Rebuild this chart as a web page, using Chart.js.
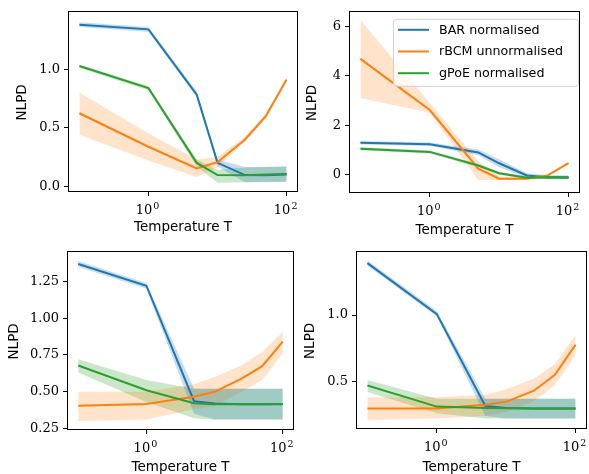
<!DOCTYPE html>
<html>
<head>
<meta charset="utf-8">
<script src="https://cdn.jsdelivr.net/npm/chart.js@4.4.1/dist/chart.umd.min.js"></script>
<style>
  html, body { margin: 0; padding: 0; background: #fff; }
  #figure { position: relative; width: 589px; height: 474px; overflow: hidden; }
  #figure canvas { position: absolute; }
</style>
</head>
<body>
<div id="figure">
  <canvas id="panelA" width="300" height="240" style="left:0;top:0"></canvas>
  <canvas id="panelB" width="289" height="240" style="left:300px;top:0"></canvas>
  <canvas id="panelC" width="300" height="234" style="left:0;top:240px"></canvas>
  <canvas id="panelD" width="289" height="234" style="left:300px;top:240px"></canvas>
</div>
<script>
// Shared x values and series names
const temperatures = [0.1, 1, 5, 10, 25, 50, 100];
const seriesNames = ['BAR normalised', 'rBCM unnormalised', 'gPoE normalised'];
const xTickValues = [1, 100];
const xTickExponents = ['0', '2'];
const xTitle = 'Temperature T';
const yTitle = 'NLPD';

// Panel A (top left)
const barA = [1.379, 1.340, 0.783, 0.200, 0.096, 0.095, 0.100];
const barALow = [1.36, 1.32, 0.76, 0.17, 0.035, 0.035, 0.04];
const barAHigh = [1.40, 1.36, 0.81, 0.23, 0.165, 0.165, 0.17];
const rbcmA = [0.624, 0.338, 0.152, 0.206, 0.40, 0.60, 0.912];
const rbcmALow = [0.44, 0.22, 0.08, 0.165, 0.38, 0.58, 0.90];
const rbcmAHigh = [0.80, 0.45, 0.23, 0.25, 0.42, 0.62, 0.93];
const gpoeA = [1.027, 0.838, 0.200, 0.096, 0.095, 0.100, 0.105];
const gpoeALow = [1.01, 0.82, 0.17, 0.03, 0.035, 0.04, 0.04];
const gpoeAHigh = [1.04, 0.855, 0.23, 0.14, 0.16, 0.165, 0.17];
const yTicksA = [0, 0.5, 1.0];

// Panel B (top right)
const barB = [1.29, 1.23, 0.90, 0.46, -0.03, -0.10, -0.10];
const barBLow = [1.22, 1.16, 0.78, 0.30, -0.12, -0.18, -0.18];
const barBHigh = [1.36, 1.30, 1.02, 0.62, 0.06, -0.02, -0.02];
const rbcmB = [4.68, 2.61, 0.24, -0.16, -0.16, -0.03, 0.47];
const rbcmBLow = [3.10, 2.50, -0.22, -0.22, -0.20, -0.08, 0.45];
const rbcmBHigh = [6.25, 2.90, 0.55, -0.08, -0.12, 0.02, 0.50];
const gpoeB = [1.05, 0.92, 0.37, 0.06, -0.12, -0.10, -0.12];
const gpoeBLow = [0.98, 0.86, 0.30, 0.0, -0.18, -0.17, -0.18];
const gpoeBHigh = [1.12, 0.98, 0.44, 0.12, -0.06, -0.04, -0.06];
const yTicksB = [0, 2, 4, 6];

// Panel C (bottom left)
const barC = [1.369, 1.221, 0.435, 0.420, 0.415, 0.415, 0.415];
const barCLow = [1.35, 1.20, 0.35, 0.31, 0.31, 0.31, 0.31];
const barCHigh = [1.39, 1.24, 0.52, 0.52, 0.52, 0.52, 0.52];
const rbcmC = [0.405, 0.416, 0.465, 0.499, 0.589, 0.674, 0.840];
const rbcmCLow = [0.30, 0.31, 0.38, 0.40, 0.50, 0.58, 0.76];
const rbcmCHigh = [0.50, 0.50, 0.55, 0.60, 0.68, 0.77, 0.91];
const gpoeC = [0.678, 0.510, 0.421, 0.415, 0.415, 0.415, 0.416];
const gpoeCLow = [0.63, 0.43, 0.32, 0.31, 0.31, 0.31, 0.31];
const gpoeCHigh = [0.72, 0.58, 0.52, 0.52, 0.52, 0.52, 0.52];
const yTicksC = [0.25, 0.5, 0.75, 1.0, 1.25];

// Panel D (bottom right)
const barD = [1.391, 1.007, 0.315, 0.300, 0.295, 0.295, 0.295];
const barDLow = [1.37, 0.99, 0.24, 0.22, 0.22, 0.22, 0.22];
const barDHigh = [1.41, 1.03, 0.37, 0.37, 0.37, 0.37, 0.37];
const rbcmD = [0.296, 0.295, 0.325, 0.346, 0.430, 0.548, 0.777];
const rbcmDLow = [0.21, 0.22, 0.24, 0.27, 0.35, 0.47, 0.70];
const rbcmDHigh = [0.38, 0.38, 0.40, 0.44, 0.52, 0.63, 0.85];
const gpoeD = [0.469, 0.310, 0.300, 0.298, 0.296, 0.296, 0.296];
const gpoeDLow = [0.42, 0.26, 0.22, 0.22, 0.22, 0.22, 0.22];
const gpoeDHigh = [0.51, 0.37, 0.37, 0.37, 0.37, 0.37, 0.37];
const yTicksD = [0.5, 1.0];

// Matplotlib default colours
const lineColors = ['#1f77b4', '#ff7f0e', '#2ca02c'];
const bandColors = ['rgba(31,119,180,0.25)', 'rgba(255,127,14,0.22)', 'rgba(44,160,44,0.25)'];

const serifFont = 'DejaVu Serif';
const sansFont = 'DejaVu Sans';

function points(values) {
    return temperatures.map((t, i) => ({ x: t, y: values[i] }));
}

// Bands first (upper fills to lower), then the mean lines on top
function buildDatasets(series) {
    const datasets = [];
    series.forEach((s, i) => {
        datasets.push({ data: points(s.high), fill: '+1', backgroundColor: bandColors[i],
            borderColor: 'transparent', borderWidth: 0, pointRadius: 0, order: 10 });
        datasets.push({ data: points(s.low), fill: false,
            borderColor: 'transparent', borderWidth: 0, pointRadius: 0, order: 10 });
    });
    series.forEach((s, i) => {
        datasets.push({ label: seriesNames[i], data: points(s.mean), fill: false,
            borderColor: lineColors[i], borderWidth: 2, pointRadius: 0, tension: 0, order: 3 - i });
    });
    return datasets;
}

// Full box around the plotting area (matplotlib spines)
const frameBox = {
    id: 'frameBox',
    afterDraw(chart) {
        const { ctx, chartArea: a } = chart;
        ctx.save();
        ctx.strokeStyle = '#000';
        ctx.lineWidth = 1;
        ctx.strokeRect(Math.round(a.left) - 0.5, Math.round(a.top) - 0.5,
            Math.round(a.right - a.left) + 1, Math.round(a.bottom - a.top) + 1);
        ctx.restore();
    }
};

// Log tick labels as 10 with a raised exponent, plus both axis titles
const axisText = {
    id: 'axisText',
    afterDraw(chart, args, opts) {
        const ctx = chart.ctx;
        const a = chart.chartArea;
        const xs = chart.scales.x;
        const baseY = a.bottom + 23;
        ctx.save();
        ctx.fillStyle = '#000';
        ctx.textBaseline = 'alphabetic';
        ctx.textAlign = 'left';
        xTickValues.forEach((v, i) => {
            const px = xs.getPixelForValue(v);
            ctx.font = '13px "' + serifFont + '"';
            const baseW = ctx.measureText('10').width;
            ctx.font = '9.5px "' + serifFont + '"';
            const expW = ctx.measureText(xTickExponents[i]).width;
            const left = px - (baseW + expW + 1) / 2 - 1;
            ctx.font = '13px "' + serifFont + '"';
            ctx.fillText('10', left, baseY);
            ctx.font = '9.5px "' + serifFont + '"';
            ctx.fillText(xTickExponents[i], left + baseW + 1, baseY - 5.5);
        });
        ctx.font = '13.5px "' + sansFont + '"';
        ctx.textAlign = 'center';
        ctx.textBaseline = 'middle';
        ctx.fillText(xTitle, (a.left + a.right) / 2, opts.xTitleY);
        ctx.translate(opts.yTitleX, (a.top + a.bottom) / 2 + 1);
        ctx.rotate(-Math.PI / 2);
        ctx.fillText(yTitle, 0, 0);
        ctx.restore();
    }
};

// Legend drawn inside the axes, upper right
const insideLegend = {
    id: 'insideLegend',
    afterDraw(chart, args, opts) {
        if (!opts.show) return;
        const ctx = chart.ctx;
        const a = chart.chartArea;
        const items = chart.data.datasets.filter(d => d.label);
        ctx.save();
        ctx.font = '12.7px "' + sansFont + '"';
        const textW = Math.max(...items.map(d => ctx.measureText(d.label).width));
        const w = 5 + 31 + 10 + textW + 15;
        const h = 67;
        const x = a.right - 1 - w;
        const y = a.top + 7;
        ctx.beginPath();
        ctx.roundRect(x + 0.5, y + 0.5, w, h, 3);
        ctx.fillStyle = 'rgba(255,255,255,0.8)';
        ctx.fill();
        ctx.strokeStyle = '#d0d0d0';
        ctx.lineWidth = 1;
        ctx.stroke();
        items.forEach((d, i) => {
            const cy = y + 11 + i * 21.7;
            ctx.strokeStyle = d.borderColor;
            ctx.lineWidth = 2;
            ctx.beginPath();
            ctx.moveTo(x + 5, cy);
            ctx.lineTo(x + 36, cy);
            ctx.stroke();
            ctx.fillStyle = '#000';
            ctx.textBaseline = 'middle';
            ctx.fillText(d.label, x + 46, cy + 0.5);
        });
        ctx.restore();
    }
};

function makePanel(id, series, cfg) {
    const ctx = document.getElementById(id).getContext('2d');
    return new Chart(ctx, {
        type: 'line',
        data: { datasets: buildDatasets(series) },
        options: {
            responsive: false,
            animation: false,
            devicePixelRatio: 1,
            layout: { padding: { top: cfg.padTop, right: cfg.padRight, left: 0, bottom: 0 } },
            plugins: {
                legend: { display: false },
                tooltip: { enabled: false },
                insideLegend: { show: !!cfg.legend },
                axisText: { xTitleY: cfg.xTitleY, yTitleX: cfg.yTitleX }
            },
            scales: {
                x: {
                    type: 'logarithmic',
                    min: Math.pow(10, -1.15),
                    max: Math.pow(10, 2.15),
                    afterBuildTicks: s => { s.ticks = xTickValues.map(v => ({ value: v })); },
                    afterFit: s => { s.height = cfg.xHeight; },
                    ticks: { autoSkip: false, maxRotation: 0, callback: () => '' },
                    grid: { drawOnChartArea: false, drawTicks: true, tickLength: 5, tickColor: '#000' },
                    border: { display: false }
                },
                y: {
                    type: 'linear',
                    min: cfg.yMin,
                    max: cfg.yMax,
                    afterBuildTicks: s => { s.ticks = cfg.yTicks.map(v => ({ value: v })); },
                    afterFit: s => { s.width = cfg.yWidth; },
                    ticks: {
                        padding: 4, color: '#000',
                        font: { family: serifFont, size: 13 },
                        callback: v => v.toFixed(cfg.decimals)
                    },
                    grid: { drawOnChartArea: false, drawTicks: true, tickLength: 5, tickColor: '#000' },
                    border: { display: false }
                }
            }
        },
        plugins: [frameBox, axisText, insideLegend]
    });
}

makePanel('panelA', [
    { mean: barA, low: barALow, high: barAHigh },
    { mean: rbcmA, low: rbcmALow, high: rbcmAHigh },
    { mean: gpoeA, low: gpoeALow, high: gpoeAHigh }
], { padTop: 6, padRight: 3, yWidth: 69, xHeight: 49, yMin: -0.04, yMax: 1.49,
     yTicks: yTicksA, decimals: 1, xTitleY: 227, yTitleX: 22.5 });

makePanel('panelB', [
    { mean: barB, low: barBLow, high: barBHigh },
    { mean: rbcmB, low: rbcmBLow, high: rbcmBHigh },
    { mean: gpoeB, low: gpoeBLow, high: gpoeBHigh }
], { padTop: 8, padRight: 10, yWidth: 50, xHeight: 48, yMin: -0.70, yMax: 6.58,
     yTicks: yTicksB, decimals: 0, xTitleY: 230, yTitleX: 12.5, legend: true });

makePanel('panelC', [
    { mean: barC, low: barCLow, high: barCHigh },
    { mean: rbcmC, low: rbcmCLow, high: rbcmCHigh },
    { mean: gpoeC, low: gpoeCLow, high: gpoeCHigh }
], { padTop: 10, padRight: 7, yWidth: 68, xHeight: 45, yMin: 0.246, yMax: 1.452,
     yTicks: yTicksC, decimals: 2, xTitleY: 227, yTitleX: 14 });

makePanel('panelD', [
    { mean: barD, low: barDLow, high: barDHigh },
    { mean: rbcmD, low: rbcmDLow, high: rbcmDHigh },
    { mean: gpoeD, low: gpoeDLow, high: gpoeDHigh }
], { padTop: 4, padRight: 3, yWidth: 57, xHeight: 46, yMin: 0.149, yMax: 1.476,
     yTicks: yTicksD, decimals: 1, xTitleY: 227, yTitleX: 10 });
</script>
</body>
</html>
